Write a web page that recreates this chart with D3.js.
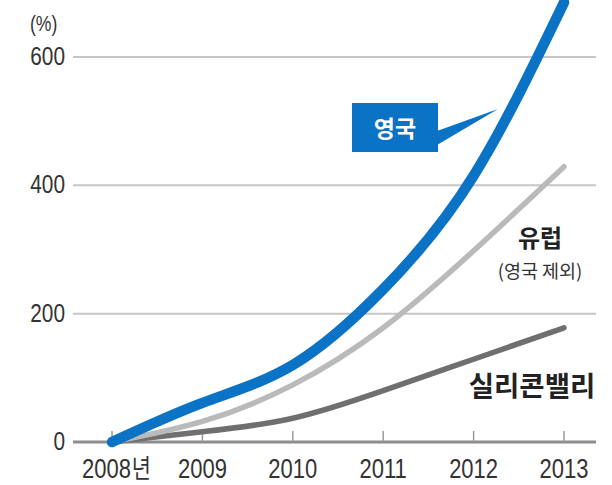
<!DOCTYPE html>
<meta charset="utf-8">
<style>
body { margin: 0; background: #fff; }
.num { font-family: "Liberation Sans", Arial, sans-serif; fill: #333; }
.kr { font-family: "Noto Sans CJK KR", "Noto Sans", sans-serif; }
</style>
<svg width="612" height="485"></svg>
<script src="https://cdn.jsdelivr.net/npm/d3@7/dist/d3.min.js"></script>
<script>

var years = [2008, 2009, 2010, 2011, 2012, 2013];
var yTicks = [0, 200, 400, 600];
var uk = [0, 61, 120, 238, 415, 685];
var europe = [0, 32, 89, 178, 298, 429];
var siliconValley = [0, 16, 37, 80, 129, 178];

var svg = d3.select("svg");

var x = d3.scaleLinear().domain([2008, 2013]).range([112, 564]),
    y = d3.scaleLinear().domain([0, 600]).range([442, 57]);

var gridLeft = 73, gridRight = 596;
var narrow = 0.8; // condensed look of the numerals

// gridlines
svg.append("g").selectAll("line")
  .data(yTicks.filter(function(d) { return d > 0; }))
  .enter().append("line")
    .attr("x1", gridLeft).attr("x2", gridRight)
    .attr("y1", function(d) { return y(d); })
    .attr("y2", function(d) { return y(d); })
    .attr("stroke", "#c6c6c6")
    .attr("stroke-width", 2);

// y labels
svg.append("g").selectAll("text")
  .data(yTicks)
  .enter().append("text")
    .attr("class", "num")
    .attr("transform", function(d) { return "translate(65," + (y(d) + 8) + ") scale(" + narrow + ",1)"; })
    .attr("text-anchor", "end")
    .attr("font-size", 26)
    .text(function(d) { return d; });

svg.append("text")
    .attr("class", "num")
    .attr("transform", "translate(30,31) scale(" + narrow + ",1)")
    .attr("font-size", 22)
    .text("(%)");

// x axis
svg.append("line")
    .attr("x1", gridLeft).attr("x2", gridRight)
    .attr("y1", y(0)).attr("y2", y(0))
    .attr("stroke", "#8d8d8d")
    .attr("stroke-width", 3);

svg.append("g").selectAll("line")
  .data(years)
  .enter().append("line")
    .attr("x1", function(d) { return x(d); })
    .attr("x2", function(d) { return x(d); })
    .attr("y1", y(0)).attr("y2", y(0) - 11)
    .attr("stroke", "#9a9a9a")
    .attr("stroke-width", 1.5);

var xl = svg.append("g").selectAll("text")
  .data(years)
  .enter().append("text")
    .attr("class", "num")
    .attr("transform", function(d, i) {
      return "translate(" + (i == 0 ? x(d) - 30 : x(d)) + ",478) scale(" + narrow + ",1)";
    })
    .attr("text-anchor", function(d, i) { return i == 0 ? "start" : "middle"; })
    .attr("font-size", 27.5);
xl.append("tspan").text(function(d) { return d; });
xl.filter(function(d, i) { return i == 0; })
  .append("tspan")
    .attr("class", "kr")
    .attr("font-size", 26)
    .attr("dx", 1)
    .text("년");

// lines
var line = d3.line()
    .x(function(d, i) { return x(years[i]); })
    .y(function(d) { return y(d); })
    .curve(d3.curveNatural);

var series = [
  {values: siliconValley, color: "#6f6f6f", width: 5.5},
  {values: europe, color: "#bababa", width: 5.5},
  {values: uk, color: "#0b73c6", width: 10.5}
];

svg.append("g").selectAll("path")
  .data(series)
  .enter().append("path")
    .attr("d", function(d) { return line(d.values); })
    .attr("fill", "none")
    .attr("stroke", function(d) { return d.color; })
    .attr("stroke-width", function(d) { return d.width; })
    .attr("stroke-linecap", "round")
    .attr("stroke-linejoin", "round");

// UK callout
svg.append("path")
    .attr("d", "M437,131L498,109L437,145Z")
    .attr("fill", "#0b73c6");
svg.append("rect")
    .attr("x", 352).attr("y", 103)
    .attr("width", 86).attr("height", 49)
    .attr("fill", "#0b73c6");
svg.append("text")
    .attr("class", "kr")
    .attr("x", 395).attr("y", 137)
    .attr("text-anchor", "middle")
    .attr("font-size", 23)
    .attr("font-weight", "bold")
    .attr("fill", "#fff")
    .text("영국");

svg.append("text")
    .attr("class", "kr")
    .attr("x", 540).attr("y", 247)
    .attr("text-anchor", "middle")
    .attr("font-size", 24)
    .attr("font-weight", "bold")
    .attr("fill", "#222")
    .text("유럽");

svg.append("text")
    .attr("class", "kr")
    .attr("x", 540).attr("y", 278)
    .attr("text-anchor", "middle")
    .attr("font-size", 18.5)
    .attr("fill", "#333")
    .text("(영국 제외)");

svg.append("text")
    .attr("class", "kr")
    .attr("x", 532).attr("y", 396)
    .attr("text-anchor", "middle")
    .attr("font-size", 27.5)
    .attr("font-weight", "bold")
    .attr("fill", "#222")
    .text("실리콘밸리");

</script>
